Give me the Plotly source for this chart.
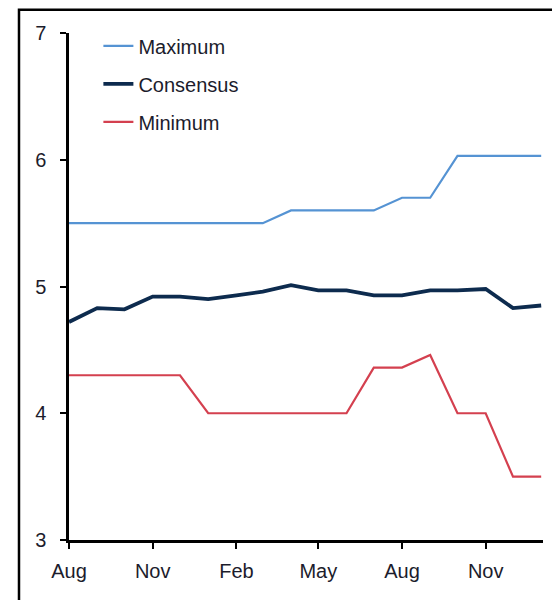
import plotly.graph_objects as go

meses = ['2011-08-01', '2011-09-01', '2011-10-01', '2011-11-01', '2011-12-01', '2012-01-01',
         '2012-02-01', '2012-03-01', '2012-04-01', '2012-05-01', '2012-06-01', '2012-07-01',
         '2012-08-01', '2012-09-01', '2012-10-01', '2012-11-01', '2012-12-01', '2013-01-01']

maximo = [5.5, 5.5, 5.5, 5.5, 5.5, 5.5, 5.5, 5.5, 5.6, 5.6, 5.6, 5.6,
          5.7, 5.7, 6.03, 6.03, 6.03, 6.03]
consenso = [4.72, 4.83, 4.82, 4.92, 4.92, 4.90, 4.93, 4.96, 5.01, 4.97, 4.97, 4.93,
            4.93, 4.97, 4.97, 4.98, 4.83, 4.85]
minimo = [4.3, 4.3, 4.3, 4.3, 4.3, 4.0, 4.0, 4.0, 4.0, 4.0, 4.0, 4.36,
          4.36, 4.46, 4.0, 4.0, 3.5, 3.5]

series = [
    ('Maximum', maximo, '#5593d3', 2.2),
    ('Consensus', consenso, '#0d2b4e', 3.8),
    ('Minimum', minimo, '#d4404f', 2.2),
]

fig = go.Figure()
for nome, valores, cor, largura in series:
    fig.add_trace(go.Scatter(
        x=meses,
        y=valores,
        name=nome,
        mode='lines',
        legendgroup=nome,
        line=dict(color=cor, width=largura)
    ))

fig.update_layout(
    width=552,
    height=592,
    margin=dict(l=61, r=17, t=25, b=60),
    plot_bgcolor='white',
    paper_bgcolor='white',
    font=dict(family='Liberation Sans, Arial', color='#1c1c2c'),
    showlegend=True,
    legend=dict(
        x=0.062, y=1.013,
        xanchor='left', yanchor='top',
        bgcolor='rgba(0,0,0,0)',
        font=dict(size=20, color='#1c1c2c'),
        traceorder='grouped',
        tracegroupgap=9,
    ),
    xaxis=dict(
        type='date',
        range=['2011-08-01', '2013-01-03'],
        dtick='M3',
        tick0='2011-08-01',
        tickformat='%b',
        ticks='outside',
        ticklen=6,
        tickwidth=2,
        tickcolor='black',
        showline=True,
        linecolor='black',
        linewidth=2.5,
        showgrid=False,
        zeroline=False,
        tickfont=dict(size=20),
        ticklabelstandoff=5,
    ),
    yaxis=dict(
        range=[3, 7],
        dtick=1,
        ticks='outside',
        ticklen=6,
        tickwidth=2,
        tickcolor='black',
        showline=True,
        linecolor='black',
        linewidth=2.5,
        showgrid=False,
        zeroline=False,
        tickfont=dict(size=20),
        ticklabelstandoff=10,
    ),
    shapes=[dict(
        type='rect', xref='paper', yref='paper',
        x0=-0.1055, x1=1.06, y0=-0.14, y1=1.046,
        line=dict(color='black', width=2.5),
        fillcolor='rgba(0,0,0,0)',
        layer='below',
    )],
)

fig.write_html('out.html')
